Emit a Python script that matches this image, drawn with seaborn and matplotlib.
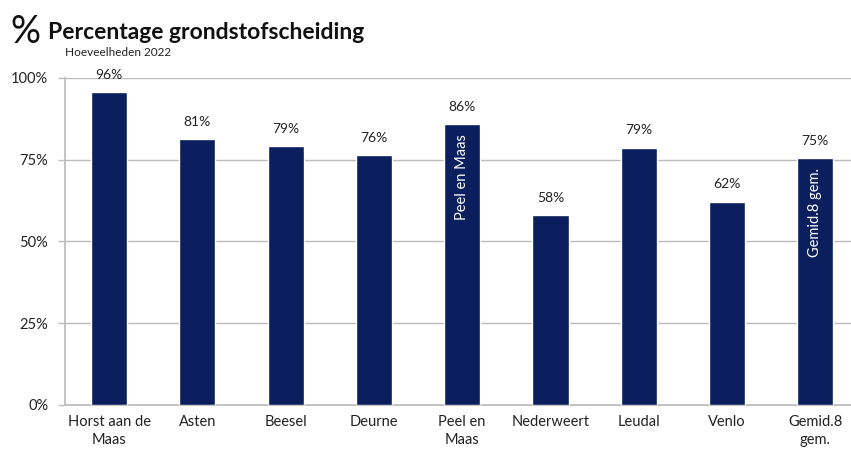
import matplotlib.pyplot as plt
import pandas as pd
import seaborn as sns

# Waarden
gemeenten = ["Horst aan de\nMaas", "Asten", "Beesel", "Deurne", "Peel en\nMaas",
             "Nederweert", "Leudal", "Venlo", "Gemid.8\ngem."]
percentage = [95.8, 81.2, 79.3, 76.4, 85.9, 58.0, 78.7, 62.2, 75.4]
# tekst in de staaf (alleen voor eigen gemeente en gemiddelde)
staaf_tekst = ["", "", "", "", "Peel en Maas", "", "", "", "Gemid.8 gem."]
yticks = [0, 25, 50, 75, 100]

BAR_COLOR = "#0b1f5e"
GRID_COLOR = "#bcbcbc"

df = pd.DataFrame({"gemeente": gemeenten, "pct": percentage})

sns.set_theme(style="white")
plt.rcParams["font.family"] = ["Lato", "DejaVu Sans"]

fig = plt.figure(figsize=(8.51, 4.55), dpi=100)
ax = fig.add_axes([0.0764, 0.110, 0.9236, 0.7187])

sns.barplot(data=df, x="gemeente", y="pct", color=BAR_COLOR, width=0.41,
            saturation=1, ax=ax, zorder=3)

ax.set_ylim(0, 100)
ax.set_xlim(-0.5, 8.406)
ax.set_yticks(yticks)
ax.set_yticklabels([f"{v}%" for v in yticks], fontsize=10.5, color="#222222")
ax.yaxis.grid(True, color=GRID_COLOR, linewidth=1, zorder=0)
ax.set_xlabel("")
ax.set_ylabel("")

for side in ("top", "right"):
    ax.spines[side].set_visible(False)
ax.spines["left"].set_color(GRID_COLOR)
ax.spines["bottom"].set_color(GRID_COLOR)

# categorie-labels en streepjes tussen categorieën
ax.set_xticks(range(len(gemeenten)))
ax.set_xticklabels(gemeenten, fontsize=10.5, color="#222222", linespacing=1.35)
ax.tick_params(axis="x", length=0, pad=7)
ax.set_xticks([i - 0.5 for i in range(len(gemeenten))], minor=True)
ax.tick_params(axis="x", which="minor", length=5, color=GRID_COLOR, width=1)
ax.tick_params(axis="y", length=5, color=GRID_COLOR, width=1, left=True, pad=7)

for i, (v, t) in enumerate(zip(percentage, staaf_tekst)):
    ax.annotate(f"{v:.0f}%", (i, v), xytext=(0, 8), textcoords="offset points",
                ha="center", va="bottom", fontsize=10, color="#222222")
    if t:
        ax.text(i, v - 3, t, rotation=90, ha="center", va="top",
                color="white", fontsize=10.5, zorder=4)

fig.text(0.012, 0.905, "%", fontsize=27, color="#111111", va="baseline")
fig.text(0.056, 0.915, "Percentage grondstofscheiding", fontsize=16.5,
         fontweight="bold", color="#111111", va="baseline")
fig.text(0.076, 0.877, "Hoeveelheden 2022", fontsize=8.5, color="#222222",
         va="baseline")

fig.savefig("out.png", dpi=100)
